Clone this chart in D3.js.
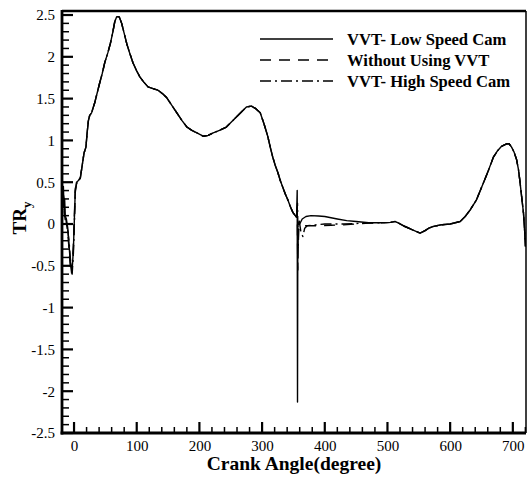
<!DOCTYPE html>
<html><head><meta charset="utf-8">
<script src="https://cdn.jsdelivr.net/npm/d3@7/dist/d3.min.js"></script>
<style>body{margin:0;background:#fff}svg{display:block}</style>
</head><body>
<svg id="c" width="528" height="477"></svg>
<script>
// ---- data ----
const xTicks = [0,100,200,300,400,500,600,700];
const yTicks = [-2.5,-2,-1.5,-1,-0.5,0,0.5,1,1.5,2,2.5];
const yTickLabels = ["-2.5","-2","-1.5","-1","-0.5","0","0.5","1","1.5","2","2.5"];
const seriesNames = ["VVT- Low Speed Cam","Without Using VVT","VVT- High Speed Cam"];

// start segment (per series)
const lowStartAngles  = [-19,-18,-17,-16,-15,-14,-12,-10,-8,-6,-4,-3,-1,0.5,2,4];
const lowStartValues  = [0.0,0.3,0.45,0.2,0.3,0.1,0.05,-0.05,-0.25,-0.45,-0.58,-0.55,-0.3,0.05,0.4,0.5];
const noStartAngles   = [-19,-18,-17,-16,-15,-14,-12,-10,-8,-6,-4,-3,-1,0.5,2,4];
const noStartValues   = [0.05,0.25,0.4,0.25,0.15,0.12,0.0,-0.1,-0.3,-0.5,-0.6,-0.5,-0.25,0.1,0.42,0.5];
const highStartAngles = [-19,-18,-17,-16,-15,-14,-12,-10,-8,-6,-4,-3,-1,0.5,2,4];
const highStartValues = [0.02,0.2,0.35,0.3,0.1,0.05,0.02,-0.08,-0.2,-0.4,-0.55,-0.6,-0.35,0.0,0.38,0.48];

// common segment 7..355 deg
const commonAngles = [7,10,13,16,19,21,23,25,28,33,37,41,45,49,54,58,62,65,68,72,76,80,84,89,94,100,105,111,118,126,134,141,148,156,164,172,180,188,196,206,214,222,232,243,251,259,267,275,283,290,297,303,309,313,317,321,325,329,333,337,341,345,349,353,355];
const commonValues = [0.52,0.55,0.7,0.85,0.92,1.1,1.24,1.3,1.33,1.45,1.57,1.69,1.8,1.93,2.05,2.16,2.3,2.42,2.48,2.48,2.4,2.28,2.16,2.04,1.93,1.83,1.76,1.7,1.64,1.62,1.6,1.56,1.51,1.42,1.33,1.24,1.16,1.12,1.09,1.05,1.06,1.09,1.12,1.16,1.22,1.28,1.34,1.4,1.41,1.38,1.33,1.2,1.05,0.92,0.8,0.7,0.62,0.52,0.44,0.36,0.29,0.21,0.14,0.1,0.08];

// mid segment (per series) around TDC of combustion
const lowMidAngles  = [356,356.5,357,360,364,370,378,390,400,410,420,435,450,470];
const lowMidValues  = [0.4,-2.13,0.02,0.0,0.06,0.09,0.1,0.095,0.09,0.075,0.06,0.04,0.03,0.015];
const noMidAngles   = [356,357,358,362,375,392,410,430,450,470];
const noMidValues   = [0.2,-0.55,-0.05,-0.02,-0.02,-0.02,-0.015,-0.01,0.0,0.01];
const highMidAngles = [356.5,357.5,359,362,365,368,372,385,400,430,460];
const highMidValues = [0.25,-0.3,0.05,-0.1,-0.15,-0.05,-0.02,-0.01,0.0,0.0,0.01];

// common tail 490..720 deg
const tailAngles = [490,505,512,518,528,540,552,560,566,573,585,600,616,624,632,642,653,661,669,676,682,690,694,698,702,706,709,711,714,717,719,720];
const tailValues = [0.015,0.02,0.03,0.01,-0.03,-0.07,-0.11,-0.08,-0.05,-0.03,-0.01,0.0,0.03,0.09,0.17,0.29,0.49,0.64,0.8,0.88,0.93,0.96,0.96,0.92,0.86,0.77,0.65,0.53,0.33,0.13,-0.1,-0.27];

// ---- build ----
function pts(a, v){ return a.map((x,i)=>[x, v[i]]); }
const common = pts(commonAngles, commonValues);
const tail = pts(tailAngles, tailValues);
const series = [
  {name: seriesNames[0], dash: null,
   data: pts(lowStartAngles, lowStartValues).concat(common, pts(lowMidAngles, lowMidValues), tail)},
  {name: seriesNames[1], dash: "11,8",
   data: pts(noStartAngles, noStartValues).concat(common, pts(noMidAngles, noMidValues), tail)},
  {name: seriesNames[2], dash: "11,4,2,4",
   data: pts(highStartAngles, highStartValues).concat(common, pts(highMidAngles, highMidValues), tail)}
];

const svg = d3.select("#c");
const L = 62, R = 526, T = 11, B = 433;
const x = d3.scaleLinear().domain([-19.2, 721]).range([L, R]);
const y = d3.scaleLinear().domain([-2.5, 2.548]).range([B, T]);

const line = d3.line().x(d=>x(d[0])).y(d=>y(d[1]));
const plot = svg.append("g");
plot.append("defs").append("clipPath").attr("id","clip")
  .append("rect").attr("x",L).attr("y",T).attr("width",R-L).attr("height",B-T);
series.slice().reverse().forEach(s=>{
  plot.append("path").datum(s.data)
    .attr("d", line).attr("fill","none").attr("stroke","#000")
    .attr("stroke-width",1.4).attr("stroke-linejoin","round")
    .attr("stroke-dasharray", s.dash)
    .attr("clip-path","url(#clip)");
});

// frame top/right
svg.append("line").attr("x1",L).attr("x2",R).attr("y1",T).attr("y2",T).attr("stroke","#000").attr("stroke-width",2.5);
svg.append("line").attr("x1",R).attr("x2",R).attr("y1",T).attr("y2",B).attr("stroke","#000").attr("stroke-width",1.5);

// y axis
const yMinor = d3.range(-25, 26).map(d=>d/10);
const isMajorY = d => Math.abs(d*2 - Math.round(d*2)) < 1e-6;
const ax = svg.append("g");
ax.selectAll(".ym").data(yMinor).join("line")
  .attr("x1",L).attr("x2",d=> isMajorY(d) ? L+11 : L+7)
  .attr("y1",d=>y(d)).attr("y2",d=>y(d)).attr("stroke","#000")
  .attr("stroke-width",d=> isMajorY(d) ? 2.2 : 1.5);
const yAxis = d3.axisLeft(y).tickValues(yTicks).tickFormat((d,i)=>yTickLabels[i]).tickSize(0).tickPadding(7);
const yg = svg.append("g").attr("transform",`translate(${L},0)`).call(yAxis);
yg.select(".domain").remove();
yg.selectAll("text").attr("font-family","'Liberation Serif', serif").attr("font-size",15).attr("fill","#000");
svg.append("line").attr("x1",L).attr("x2",L).attr("y1",T-1).attr("y2",B+1.5).attr("stroke","#000").attr("stroke-width",2.8);

// x axis
const xMinor = d3.range(0, 721, 20);
ax.selectAll(".xm").data(xMinor).join("line")
  .attr("x1",d=>x(d)).attr("x2",d=>x(d))
  .attr("y1",B).attr("y2",d=> d%100===0 ? B-11 : B-6)
  .attr("stroke","#000").attr("stroke-width",d=> d%100===0 ? 2.2 : 1.5);
const xAxis = d3.axisBottom(x).tickValues(xTicks).tickFormat(d3.format("d")).tickSize(0).tickPadding(7);
const xg = svg.append("g").attr("transform",`translate(0,${B})`).call(xAxis);
xg.select(".domain").remove();
xg.selectAll("text").attr("font-family","'Liberation Serif', serif").attr("font-size",15).attr("fill","#000");
svg.append("line").attr("x1",L-1.4).attr("x2",R).attr("y1",B).attr("y2",B).attr("stroke","#000").attr("stroke-width",2.8);

// axis titles
svg.append("text").attr("x",(L+R)/2).attr("y",470).attr("text-anchor","middle")
  .attr("font-family","'Liberation Serif', serif").attr("font-weight","bold").attr("font-size",19.5)
  .text("Crank Angle(degree)");
const yt = svg.append("text").attr("transform","translate(26,218) rotate(-90)").attr("text-anchor","middle")
  .attr("font-family","'Liberation Serif', serif").attr("font-weight","bold").attr("font-size",19);
yt.append("tspan").text("TR");
yt.append("tspan").attr("font-size",13).attr("dy",5).text("y");

// legend
const lg = svg.append("g");
series.forEach((s,i)=>{
  const yy = 39 + i*21;
  lg.append("line").attr("x1",260).attr("x2",333).attr("y1",yy).attr("y2",yy)
    .attr("stroke","#000").attr("stroke-width",1.4).attr("stroke-dasharray",s.dash);
  lg.append("text").attr("x",347).attr("y",yy+5.5).attr("font-family","'Liberation Serif', serif")
    .attr("font-weight","bold").attr("font-size",16.6).text(s.name);
});
</script>
</body></html>
